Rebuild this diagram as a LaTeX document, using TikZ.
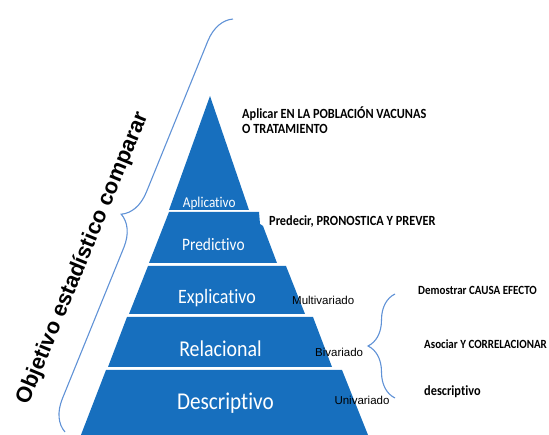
\documentclass[tikz,border=0pt]{standalone}
\usepackage{fontspec}
\setmainfont{Liberation Sans}
\newfontfamily\calfont[FakeStretch=0.88,Ligatures=NoCommon]{Carlito}
\usetikzlibrary{decorations.pathreplacing}
\definecolor{pyr}{RGB}{23,111,190}
\definecolor{brc}{RGB}{96,146,214}
\begin{document}
\begin{tikzpicture}[x=1pt,y=1pt,
  layer/.style={fill=pyr,draw=none},
  lvl/.style={text=white,inner sep=0pt,anchor=base,font=\calfont\fontsize{#1}{#1}\selectfont},
  side/.style={inner sep=0pt,anchor=base west,font=\fontsize{11.5}{13}\selectfont},
  note/.style={inner sep=0pt,anchor=base west,align=left,font=\calfont\bfseries\fontsize{#1}{14.4}\selectfont},
  bracebig/.style={draw=brc,line width=1.1pt,decorate,decoration={brace,amplitude=30pt}},
  bracesmall/.style={draw=brc,line width=1.1pt,decorate,decoration={brace,amplitude=27pt}},
]
\useasboundingbox (0,0) rectangle (549,-435);
\begin{scope}
\clip (0,0) rectangle (549,-435);
% pyramid layers
\fill[layer] (210,-96) -- (249,-210) -- (169,-210) -- cycle;
\fill[layer] (169,-212) -- (259,-212) -- (260,-224) -- (263,-226) -- (277,-263) -- (149,-263) -- cycle;
\fill[layer] (148,-266) -- (286,-266) -- (305,-314) -- (129,-314) -- cycle;
\fill[layer] (127,-317) -- (313,-317) -- (332,-367) -- (108,-367) -- cycle;
\fill[layer] (106,-370) -- (342,-370) -- (370,-440) -- (79,-440) -- cycle;
\end{scope}
% layer labels
\node[lvl=15] (apl) at (209.2,-207.3) {Aplicativo};
\node[lvl=17.5] (pre) at (213.4,-251) {Predictivo};
\node[lvl=20.4] (exp) at (217,-304) {Explicativo};
\node[lvl=22.6] (rel) at (220.5,-356.7) {Relacional};
\node[lvl=24.1] (des) at (225.4,-409.3) {Descriptivo};
% side labels
\node[side] (mul) at (292,-304.3) {Multivariado};
\node[side] (biv) at (315,-356.7) {Bivariado};
\node[side] (uni) at (334.3,-404.3) {Univariado};
% notes
\node[note=14] (napl) at (242,-133.3) {Aplicar EN LA POBLACIÓN VACUNAS\\O TRATAMIENTO};
\node[note=14] (npre) at (269,-226) {Predecir, PRONOSTICA Y PREVER};
\node[note=12.5] (ndem) at (418,-295) {Demostrar CAUSA EFECTO};
\node[note=12.5] (naso) at (424,-349) {Asociar Y CORRELACIONAR};
\node[note=14] (ndes) at (424,-396) {descriptivo};
% braces
\coordinate (lbA) at (65,-432);
\coordinate (lbB) at (233,-19);
\draw[bracebig] (lbA) -- (lbB);
\coordinate (rbA) at (395,-398);
\coordinate (rbB) at (395,-294);
\draw[bracesmall] (rbA) -- (rbB);
% rotated title
\node[rotate=67.55,anchor=base,inner sep=0pt,font=\bfseries\fontsize{21.9}{26}\selectfont] (obj) at (88.0,-260.4) {Objetivo estadístico comparar};
\end{tikzpicture}
\end{document}
